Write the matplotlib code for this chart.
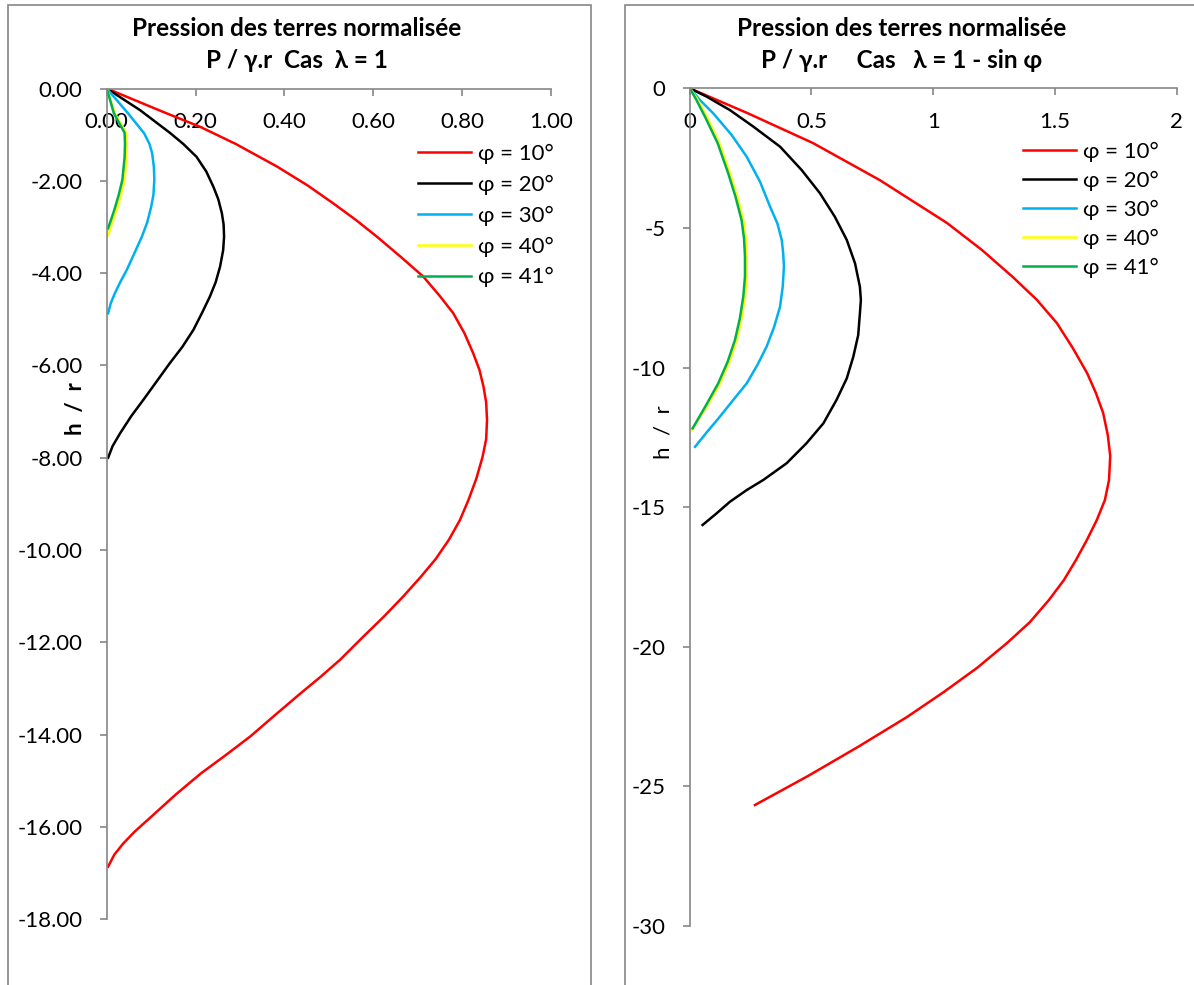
import matplotlib
matplotlib.use("Agg")
import matplotlib.pyplot as plt
from matplotlib.patches import Rectangle

plt.rcParams['font.family'] = ['Lato', 'DejaVu Sans']
plt.rcParams['axes.unicode_minus'] = False

labels = ['φ = 10°', 'φ = 20°', 'φ = 30°', 'φ = 40°', 'φ = 41°']
colors = ['#FF0000', '#000000', '#00B0F0', '#FFFF00', '#00B050']

# cas lambda = 1  (P/gamma.r , h/r)
p1_10 = [0, 0.125, 0.210, 0.290, 0.383, 0.452, 0.510, 0.561, 0.608, 0.662, 0.713, 0.750,
         0.780, 0.805, 0.825, 0.839, 0.848, 0.854, 0.856, 0.854, 0.846, 0.832, 0.814, 0.795,
         0.770, 0.740, 0.707, 0.668, 0.623, 0.575, 0.525, 0.481, 0.437, 0.382, 0.323, 0.267,
         0.212, 0.155, 0.100, 0.063, 0.037, 0.017, 0.003]
h1_10 = [0, -0.50, -0.83, -1.20, -1.69, -2.10, -2.49, -2.85, -3.21, -3.65, -4.08, -4.50,
         -4.87, -5.30, -5.74, -6.10, -6.46, -6.80, -7.18, -7.60, -7.98, -8.45, -8.92, -9.35,
         -9.78, -10.20, -10.58, -11.00, -11.45, -11.90, -12.38, -12.75, -13.10, -13.55, -14.04, -14.45,
         -14.84, -15.30, -15.78, -16.10, -16.36, -16.60, -16.86]
p1_20 = [0, 0.075, 0.142, 0.172, 0.202, 0.224, 0.240, 0.251, 0.259, 0.263, 0.264, 0.262, 0.255,
         0.245, 0.232, 0.215, 0.195, 0.170, 0.142, 0.112, 0.082, 0.055, 0.030, 0.013, 0.003]
h1_20 = [0, -0.47, -0.96, -1.20, -1.48, -1.80, -2.13, -2.40, -2.70, -2.95, -3.21, -3.50, -3.86,
         -4.20, -4.51, -4.85, -5.23, -5.60, -5.95, -6.35, -6.75, -7.10, -7.47, -7.75, -8.00]
p1_30 = [0, 0.048, 0.084, 0.096, 0.102, 0.106, 0.107, 0.105, 0.100, 0.091, 0.079, 0.063,
         0.045, 0.030, 0.018, 0.009, 0.003]
h1_30 = [0, -0.54, -0.97, -1.20, -1.40, -1.70, -1.98, -2.30, -2.56, -2.90, -3.21, -3.55,
         -3.93, -4.20, -4.44, -4.65, -4.87]
p1_40 = [0, 0.018, 0.043, 0.045, 0.044, 0.040, 0.032, 0.022, 0.012, 0.003]
h1_40 = [0, -0.54, -0.96, -1.20, -1.50, -1.98, -2.30, -2.63, -2.90, -3.18]
p1_41 = [0, 0.016, 0.040, 0.041, 0.040, 0.035, 0.027, 0.017, 0.003]
h1_41 = [0, -0.54, -0.96, -1.20, -1.50, -1.98, -2.30, -2.63, -3.03]

# cas lambda = 1 - sin phi
p2_10 = [0, 0.235, 0.506, 0.781, 1.056, 1.200, 1.327, 1.426, 1.508, 1.573, 1.632, 1.668,
         1.698, 1.717, 1.727, 1.722, 1.705, 1.672, 1.631, 1.586, 1.537, 1.475, 1.397, 1.303,
         1.180, 1.044, 0.892, 0.691, 0.486, 0.268]
h2_10 = [0, -0.88, -1.96, -3.29, -4.82, -5.79, -6.76, -7.58, -8.41, -9.30, -10.20, -10.91,
         -11.63, -12.42, -13.17, -14.03, -14.75, -15.46, -16.18, -16.90, -17.61, -18.33, -19.12, -19.87,
         -20.76, -21.62, -22.52, -23.59, -24.63, -25.67]
p2_20 = [0, 0.070, 0.165, 0.261, 0.371, 0.460, 0.535, 0.596, 0.645, 0.679, 0.699, 0.703, 0.699,
         0.692, 0.672, 0.645, 0.603, 0.549, 0.480, 0.398, 0.302, 0.234, 0.165, 0.111, 0.053]
h2_20 = [0, -0.30, -0.78, -1.37, -2.09, -2.93, -3.76, -4.60, -5.43, -6.27, -7.11, -7.58, -8.06,
         -8.84, -9.61, -10.39, -11.16, -12.00, -12.71, -13.43, -14.03, -14.39, -14.81, -15.22, -15.64]
p2_30 = [0, 0.042, 0.097, 0.172, 0.234, 0.289, 0.330, 0.360, 0.378, 0.384, 0.387, 0.382, 0.371,
         0.347, 0.316, 0.278, 0.234, 0.179, 0.124, 0.072, 0.022]
h2_30 = [0, -0.42, -0.90, -1.67, -2.45, -3.35, -4.24, -4.84, -5.43, -5.91, -6.39, -7.11, -7.82,
         -8.54, -9.25, -9.91, -10.57, -11.16, -11.76, -12.30, -12.84]
p2_40 = [0, 0.029, 0.070, 0.122, 0.165, 0.195, 0.220, 0.230, 0.234, 0.234, 0.227, 0.213,
         0.193, 0.163, 0.124, 0.070, 0.008]
h2_40 = [0, -0.36, -1.02, -1.97, -3.04, -3.88, -4.72, -5.37, -6.03, -6.75, -7.46, -8.24,
         -9.01, -9.79, -10.57, -11.40, -12.24]
p2_41 = [0, 0.024, 0.063, 0.115, 0.158, 0.188, 0.213, 0.223, 0.227, 0.227, 0.220, 0.206,
         0.186, 0.156, 0.117, 0.064, 0.012]
h2_41 = [0, -0.36, -1.02, -1.97, -3.04, -3.88, -4.72, -5.37, -6.03, -6.75, -7.46, -8.24,
         -9.01, -9.79, -10.57, -11.40, -12.18]

W, H = 1194, 985
fig = plt.figure(figsize=(W / 100, H / 100), dpi=100)

grey = '#868686'
# cadres des deux graphiques
fig.patches.append(Rectangle((8 / W, -0.05), 583 / W, 1.05 - 5 / H, transform=fig.transFigure,
                             fill=False, edgecolor=grey, lw=1.2))
fig.patches.append(Rectangle((625 / W, -0.05), 0.5, 1.05 - 5 / H, transform=fig.transFigure,
                             fill=False, edgecolor=grey, lw=1.2))


def make_ax(x0, x1, y0, y1):
    return fig.add_axes([x0 / W, 1 - y1 / H, (x1 - x0) / W, (y1 - y0) / H])


def style(ax, xlim, ylim, xticks, yticks, xfmt, yfmt):
    ax.set_xlim(*xlim)
    ax.set_ylim(*ylim)
    ax.spines['right'].set_visible(False)
    ax.spines['top'].set_visible(False)
    ax.spines['bottom'].set_position(('data', 0))
    for s in ('left', 'bottom'):
        ax.spines[s].set_color(grey)
        ax.spines[s].set_linewidth(1.2)
    ax.set_xticks(xticks)
    ax.set_yticks(yticks)
    ax.set_xticklabels([xfmt(v) for v in xticks])
    ax.set_yticklabels([yfmt(v) for v in yticks])
    ax.tick_params(axis='x', direction='out', length=5, width=1.2, color=grey, pad=12, labelsize=16)
    ax.tick_params(axis='y', direction='out', length=5, width=1.2, color=grey, pad=12.5, labelsize=16)
    ax.patch.set_alpha(0)


# --- gauche
ax1 = make_ax(106.8, 551, 88.5, 919.2)
series1 = [(p1_10, h1_10), (p1_20, h1_20), (p1_30, h1_30), (p1_40, h1_40), (p1_41, h1_41)]
for (p, h), c, lab in zip(series1, colors, labels):
    ax1.plot(p, h, color=c, lw=1.8, label=lab, solid_joinstyle='round')
style(ax1, (0, 1), (-18, 0), [0, 0.2, 0.4, 0.6, 0.8, 1.0], list(range(0, -19, -2)),
      lambda v: f"{v:.2f}", lambda v: f"{v:.2f}")
ax1.set_ylabel('h  /  r', fontsize=16, fontweight='bold', va='center')
ax1.yaxis.set_label_coords(-0.07, 0.615)
ax1.legend(loc='upper left', bbox_to_anchor=(418 / W, 1 - 144 / H), bbox_transform=fig.transFigure,
           frameon=False, fontsize=16, handlelength=2.4, handletextpad=0.3, labelspacing=0.48,
           borderpad=0, borderaxespad=0)
fig.text(297 / W, 1 - 28 / H, 'Pression des terres normalisée', ha='center', va='center',
         fontsize=17.5, fontweight='bold')
fig.text(297 / W, 1 - 60 / H, 'P / γ.r  Cas  λ = 1', ha='center', va='center',
         fontsize=17.5, fontweight='bold')

# --- droite
ax2 = make_ax(689.7, 1176.7, 88.3, 925.9)
series2 = [(p2_10, h2_10), (p2_20, h2_20), (p2_30, h2_30), (p2_40, h2_40), (p2_41, h2_41)]
for (p, h), c, lab in zip(series2, colors, labels):
    ax2.plot(p, h, color=c, lw=1.8, label=lab, solid_joinstyle='round')
style(ax2, (0, 2), (-30, 0), [0, 0.5, 1, 1.5, 2], list(range(0, -31, -5)),
      lambda v: f"{v:g}", lambda v: f"{v:g}")
ax2.set_ylabel('h  /  r', fontsize=16, va='center')
ax2.yaxis.set_label_coords(-0.054, 0.59)
ax2.legend(loc='upper left', bbox_to_anchor=(1022.7 / W, 1 - 142 / H), bbox_transform=fig.transFigure,
           frameon=False, fontsize=16, handlelength=2.4, handletextpad=0.3, labelspacing=0.4,
           borderpad=0, borderaxespad=0)
fig.text(902 / W, 1 - 28 / H, 'Pression des terres normalisée', ha='center', va='center',
         fontsize=17.5, fontweight='bold')
fig.text(902 / W, 1 - 60 / H, 'P / γ.r     Cas   λ = 1 - sin φ', ha='center', va='center',
         fontsize=17.5, fontweight='bold')

fig.savefig('out.png', dpi=100)
